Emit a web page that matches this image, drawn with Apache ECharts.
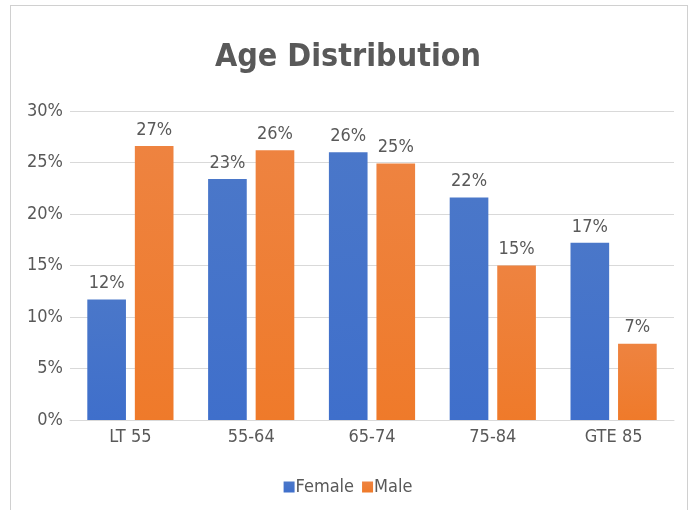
<!DOCTYPE html>
<html>
<head>
<meta charset="utf-8">
<script src="https://cdn.jsdelivr.net/npm/echarts@6/dist/echarts.min.js"></script>
<style>
  html, body { margin: 0; padding: 0; background: #fff; }
  #frame { position: absolute; left: 10px; top: 5px; width: 678px; height: 510px; border: 1px solid #d0d0d0; box-sizing: border-box; }
  #chart { width: 696px; height: 510px; }
</style>
</head>
<body>
<div id="frame"></div>
<div id="chart"></div>
<script>
// Share of patients in each age band, by sex (percent)
const ageGroups = ['LT 55', '55-64', '65-74', '75-84', 'GTE 85'];
const femaleShare = [11.7, 23.4, 26.0, 21.6, 17.2];
const maleShare = [26.6, 26.2, 24.9, 15.0, 7.4];
const yTicks = { min: 0, max: 30, interval: 5 };

const FONT = '"DejaVu Sans Condensed", "DejaVu Sans", sans-serif';
const TEXT = '#595959';

function grad(top, bottom) {
  return new echarts.graphic.LinearGradient(0, 0, 0, 1, [
    { offset: 0, color: top },
    { offset: 1, color: bottom }
  ]);
}

const chart = echarts.init(document.getElementById('chart'), null, { renderer: 'canvas' });
const labelCfg = {
  show: true,
  position: 'top',
  distance: 7,
  color: TEXT,
  fontFamily: FONT,
  fontSize: 18,
  formatter: p => Math.round(p.value) + '%'
};

chart.setOption({
  animation: false,
  backgroundColor: 'transparent',
  title: {
    text: 'Age Distribution',
    left: 'center',
    top: 37,
    textStyle: { fontFamily: FONT, fontWeight: 'bold', fontSize: 32, color: TEXT }
  },
  legend: {
    bottom: 9,
    left: 'center',
    itemWidth: 11,
    itemHeight: 11,
    itemGap: 8,
    icon: 'rect',
    textStyle: { fontFamily: FONT, fontSize: 18, color: TEXT, padding: [0, 0, 0, -4] },
    data: ['Female', 'Male']
  },
  grid: { left: 70, right: 22, top: 111, bottom: 90 },
  xAxis: {
    type: 'category',
    data: ageGroups,
    axisTick: { show: false },
    axisLine: { lineStyle: { color: '#d9d9d9' } },
    axisLabel: { color: TEXT, fontFamily: FONT, fontSize: 18, margin: 8 }
  },
  yAxis: {
    type: 'value',
    min: yTicks.min,
    max: yTicks.max,
    interval: yTicks.interval,
    axisLine: { show: false },
    axisTick: { show: false },
    splitLine: { lineStyle: { color: '#d9d9d9' } },
    axisLabel: { color: TEXT, fontFamily: FONT, fontSize: 18, margin: 7, formatter: v => v + '%' }
  },
  series: [
    {
      name: 'Female',
      type: 'bar',
      data: femaleShare,
      barWidth: '32%',
      barGap: '23%',
      itemStyle: { color: grad('#4a77c9', '#3f6fcb') },
      label: labelCfg
    },
    {
      name: 'Male',
      type: 'bar',
      data: maleShare,
      barWidth: '32%',
      itemStyle: { color: grad('#ee8340', '#ef7a2a') },
      label: labelCfg
    }
  ]
});
</script>
</body>
</html>
